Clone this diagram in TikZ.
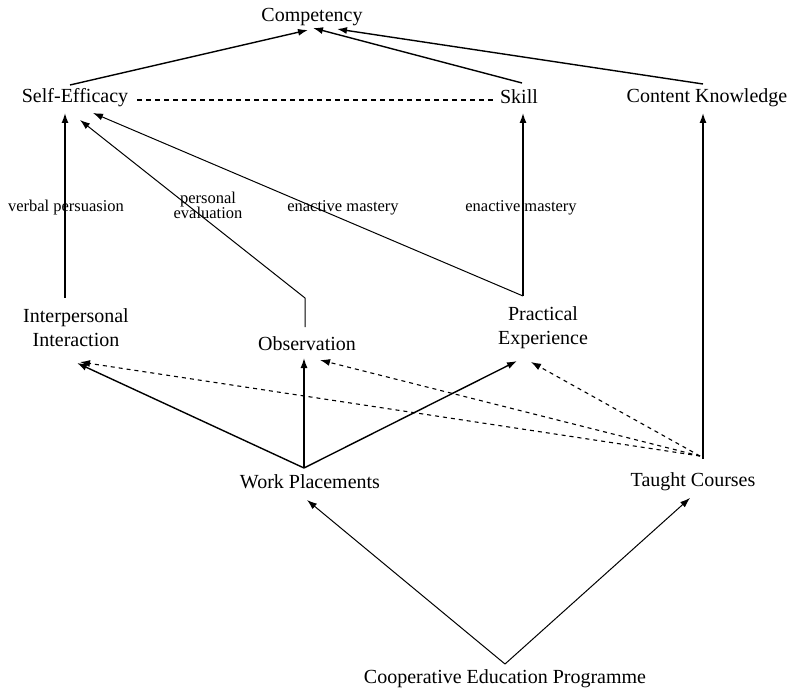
\documentclass[tikz,border=0pt]{standalone}
\usepackage{fontspec}
\setmainfont{Liberation Serif}
\usetikzlibrary{arrows.meta}
\begin{document}
\begin{tikzpicture}[x=1pt,y=-1pt,
  box/.style={inner sep=0pt,align=center,font=\fontsize{20}{24}\selectfont},
  lab/.style={inner sep=0pt,align=center,font=\fontsize{16.5}{17}\selectfont},
  arr/.style={line width=1.4pt,-{Latex[length=10pt,width=7pt]}},
  thinarr/.style={line width=1pt,-{Latex[length=10pt,width=7pt]}},
  dasharr/.style={line width=1.1pt,dash pattern=on 4pt off 4pt,-{Latex[length=10pt,width=7pt]}},
  dashln/.style={line width=1.1pt,dash pattern=on 5pt off 4pt}]
\useasboundingbox (0,0) rectangle (797,692);
% nodes
\node[box] (comp) at (312,17) {Competency};
\node[box] (se) at (75,98) {Self-Efficacy};
\node[box] (skill) at (519,97) {Skill};
\node[box] (ck) at (707,98) {Content Knowledge};
\node[box] (ii) at (76,328) {Interpersonal\\Interaction};
\node[box] (obs) at (307,344) {Observation};
\node[box] (pe) at (543,328) {Practical\\Experience};
\node[box] (wp) at (310,482) {Work Placements};
\node[box] (tc) at (693,482) {Taught Courses};
\node[box] (cep) at (505,679) {Cooperative Education Programme};
% connectors
\draw[arr] ([shift={(-5,-13)}]se.center) -- ([shift={(-4,13)}]comp.center);
\draw[arr] ([shift={(3,-14)}]skill.center) -- ([shift={(1,11)}]comp.center);
\draw[arr] ([shift={(-4,-14)}]ck.center) -- ([shift={(25,12)}]comp.center);
\draw[dashln] ([shift={(62,2)}]se.center) -- ([shift={(-23,3)}]skill.center);
\draw[arr] ([shift={(-11,-30)}]ii.center) -- ([shift={(-10,15)}]se.center);
\draw[thinarr] ([shift={(-2,-17)}]obs.center) -- ([shift={(-2,-46)}]obs.center) -- ([shift={(5,22)}]se.center);
\draw[thinarr] ([shift={(-20,-32)}]pe.center) -- ([shift={(18,15)}]se.center);
\draw[arr] ([shift={(-20,-32)}]pe.center) -- ([shift={(4,16)}]skill.center);
\draw[arr] ([shift={(10,-23)}]tc.center) -- ([shift={(-4,15)}]ck.center);
\draw[arr] ([shift={(-6,-14)}]wp.center) -- ([shift={(1,35)}]ii.center);
\draw[arr] ([shift={(-6,-14)}]wp.center) -- ([shift={(-3,14)}]obs.center);
\draw[arr] ([shift={(-6,-14)}]wp.center) -- ([shift={(-26,33)}]pe.center);
\draw[dasharr] ([shift={(7,-26)}]tc.center) -- ([shift={(4,34)}]ii.center);
\draw[dasharr] ([shift={(7,-26)}]tc.center) -- ([shift={(13,16)}]obs.center);
\draw[dasharr] ([shift={(7,-26)}]tc.center) -- ([shift={(-12,34)}]pe.center);
\draw[thinarr] ([shift={(0,-15)}]cep.center) -- ([shift={(-3,18)}]wp.center);
\draw[thinarr] ([shift={(0,-15)}]cep.center) -- ([shift={(-3,16)}]tc.center);
% labels
\node[lab] (vp) at (66,208) {verbal persuasion};
\node[lab] (pev) at (208,205) {personal\\[-2pt]evaluation};
\node[lab] (em1) at (343,208) {enactive mastery};
\node[lab] (em2) at (521,208) {enactive mastery};
\end{tikzpicture}
\end{document}
